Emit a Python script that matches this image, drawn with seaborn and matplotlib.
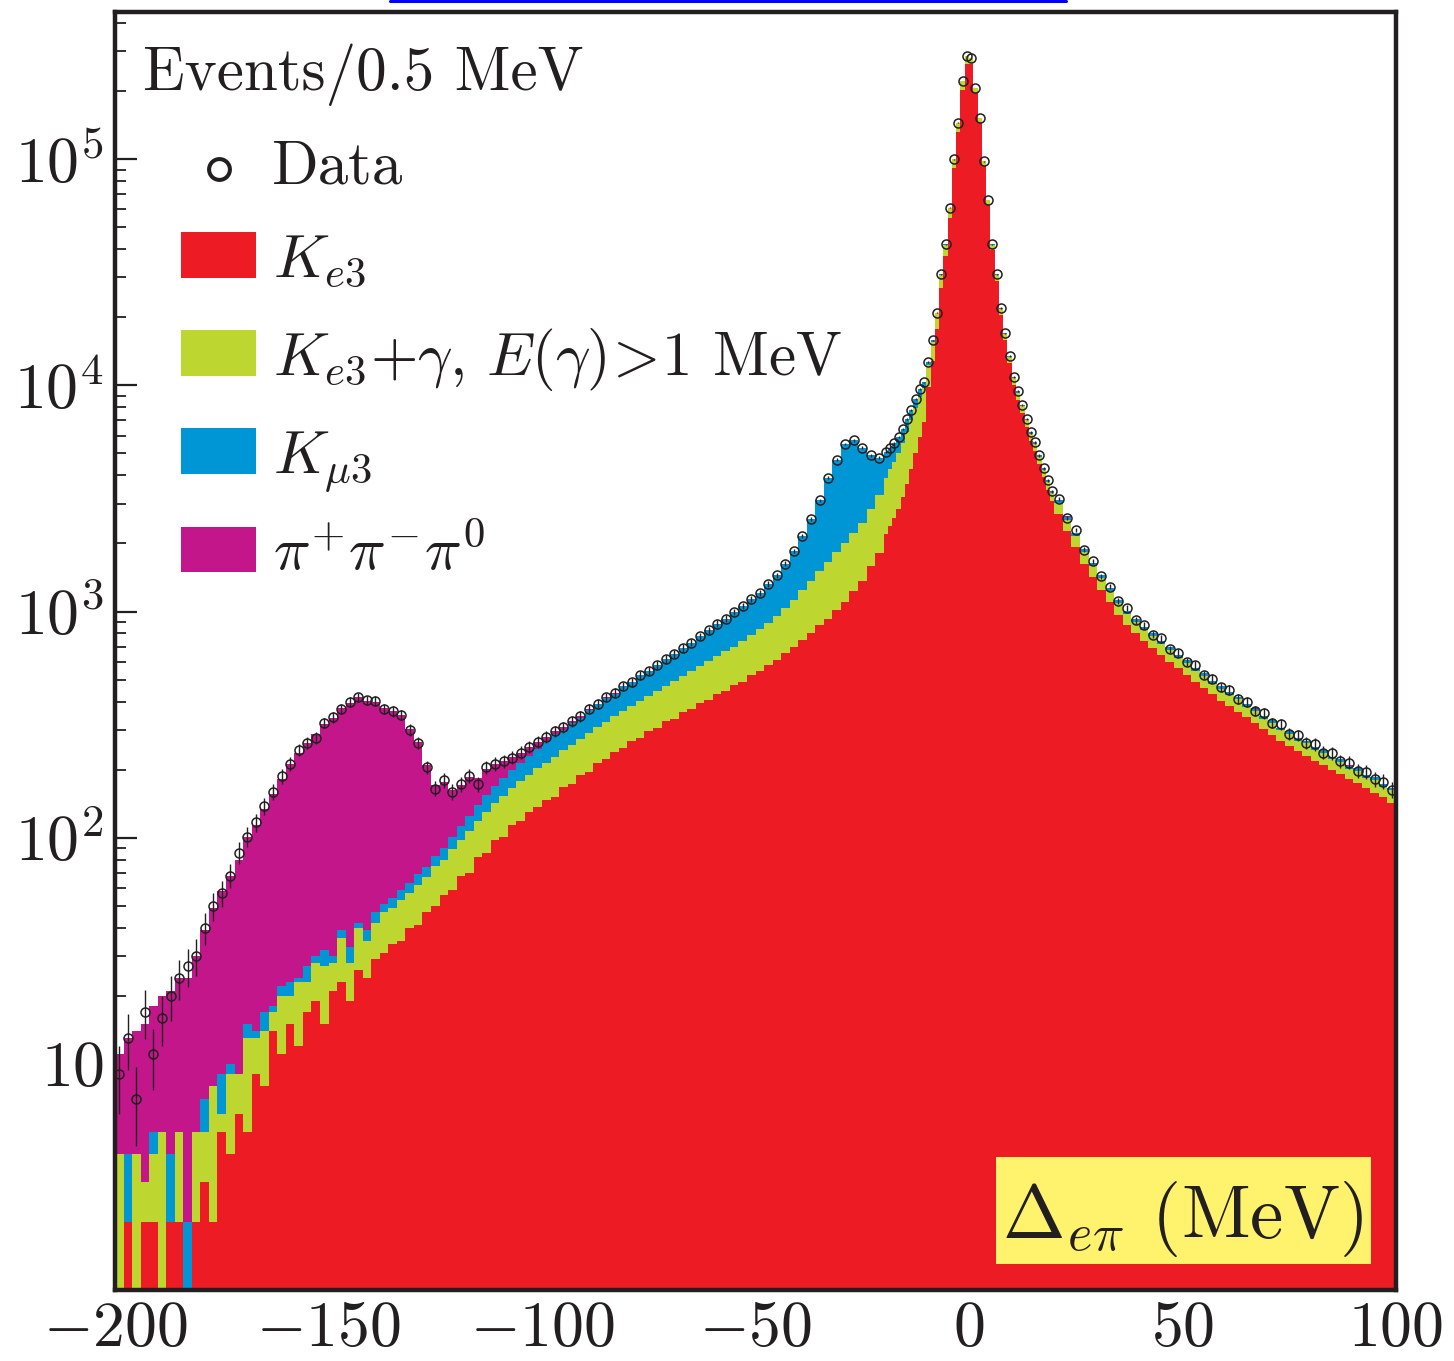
import numpy as np
import pandas as pd
import seaborn as sns
import matplotlib.pyplot as plt
from matplotlib.patches import Rectangle
from matplotlib.lines import Line2D
from matplotlib.ticker import LogLocator, NullFormatter

# Bin edges: 2 MeV on the tails, 1 MeV around the K_e3 peak
EDGES = np.concatenate([np.arange(-200, -20, 2.0), np.arange(-20, 20, 1.0), np.arange(20, 100.1, 2.0)])
CENTERS = 0.5 * (EDGES[:-1] + EDGES[1:])

# Events / 0.5 MeV, one value per bin (left tail, peak, right tail)
data_counts = [
    9, 13, 7, 17, 11, 16, 20, 24, 27, 30,
    40, 50, 57, 68, 86, 101, 117, 138, 160, 187,
    212, 245, 262, 276, 322, 340, 372, 400, 418, 405,
    402, 372, 362, 350, 300, 262, 205, 165, 180, 160,
    172, 188, 172, 205, 212, 218, 226, 238, 252, 266,
    280, 296, 308, 328, 344, 372, 392, 418, 436, 468,
    488, 522, 546, 578, 618, 648, 692, 728, 778, 826,
    884, 930, 998, 1058, 1134, 1205, 1325, 1445, 1625, 1855,
    2150, 2560, 3100, 3900, 4700, 5500, 5720, 5300, 4900, 4780,
    5100, 5300, 5550, 5900, 6400, 7100, 7800, 8700, 9600, 10300,
    12700, 15800, 21000, 31000, 42000, 61000, 100000, 145000, 222000, 285000,
    280000, 207000, 152000, 98000, 66000, 42000, 31000, 22000, 17000, 13500,
    10900, 9400, 8200, 7100, 6200, 5600, 4900, 4300, 3800, 3400,
    3150, 2600, 2290, 1880, 1670, 1430, 1290, 1110, 1035, 915,
    870, 790, 760, 680, 655, 600, 580, 525, 505, 462,
    450, 410, 400, 365, 355, 322, 318, 288, 284, 262,
    259, 238, 236, 218, 215, 198, 196, 181, 177, 163,
]
ke3 = [
    1, 2, 0, 2, 2, 1, 2, 2, 0, 2,
    3, 2, 5, 4, 6, 5, 9, 8, 14, 11,
    15, 12, 17, 19, 15, 21, 23, 19, 26, 24,
    29, 31, 34, 35, 40, 41, 47, 50, 56, 59,
    68, 70, 82, 86, 98, 101, 114, 118, 130, 136,
    147, 152, 168, 172, 190, 196, 214, 222, 240, 248,
    268, 276, 297, 305, 328, 336, 360, 370, 395, 405,
    432, 445, 472, 490, 523, 545, 582, 612, 658, 695,
    752, 800, 868, 925, 1015, 1100, 1235, 1370, 1585, 1820,
    2200, 2400, 2600, 2850, 3200, 3650, 4250, 5000, 5900, 6900,
    9800, 12800, 17800, 27000, 37500, 55000, 91000, 132000, 203000, 265000,
    265000, 197000, 145000, 93500, 62500, 39500, 29000, 20500, 15800, 12500,
    10050, 8650, 7550, 6520, 5680, 5120, 4470, 3920, 3460, 3090,
    2710, 2280, 1930, 1630, 1420, 1250, 1100, 970, 875, 800,
    740, 688, 640, 598, 560, 525, 490, 460, 430, 404,
    383, 361, 340, 320, 301, 284, 268, 254, 241, 230,
    219, 209, 200, 191, 182, 174, 166, 158, 151, 143,
]
ke3_gamma = [
    3, 0, 4, 1, 2, 4, 0, 3, 1, 3,
    2, 6, 1, 5, 3, 8, 4, 6, 3, 9,
    5, 11, 6, 9, 12, 7, 13, 9, 14, 11,
    13, 16, 15, 18, 17, 21, 20, 25, 24, 30,
    30, 37, 36, 44, 44, 52, 52, 60, 60, 68,
    68, 76, 76, 84, 84, 94, 94, 104, 104, 115,
    115, 126, 128, 140, 142, 156, 158, 175, 180, 198,
    202, 222, 228, 252, 262, 290, 310, 345, 380, 430,
    490, 560, 640, 730, 820, 910, 1000, 1100, 1250, 1450,
    1700, 1850, 2000, 2150, 2350, 2600, 2750, 2950, 3000, 2800,
    2500, 2700, 3000, 3800, 4300, 5800, 9000, 13000, 19000, 20000,
    15000, 10000, 7000, 4500, 3300, 2300, 1800, 1300, 1000, 850,
    700, 620, 540, 480, 430, 400, 360, 320, 290, 265,
    315, 270, 225, 200, 165, 155, 130, 125, 105, 100,
    88, 90, 76, 78, 64, 68, 56, 60, 48, 52,
    44, 48, 38, 42, 34, 38, 30, 34, 27, 31,
    25, 28, 22, 26, 20, 24, 18, 22, 16, 19,
]
kmu3 = [
    0, 2, 0, 0, 1, 0, 2, 0, 1, 0,
    2, 0, 3, 1, 0, 2, 1, 3, 1, 2,
    3, 1, 4, 2, 5, 2, 3, 5, 2, 4,
    5, 4, 5, 6, 6, 7, 7, 8, 10, 12,
    15, 18, 21, 24, 27, 30, 33, 36, 39, 42,
    53, 58, 56, 66, 65, 78, 81, 90, 90, 104,
    105, 120, 121, 133, 148, 156, 174, 183, 203, 223,
    250, 263, 298, 316, 349, 370, 433, 488, 587, 730,
    908, 1200, 1592, 2245, 2865, 3490, 3485, 2830, 2065, 1510,
    1200, 1050, 950, 900, 850, 850, 800, 750, 700, 600,
    400, 300, 200, 200, 200, 200, 0, 0, 0, 0,
    0, 0, 0, 0, 200, 200, 200, 200, 200, 150,
    150, 130, 110, 100, 90, 80, 70, 60, 50, 45,
    95, 80, 70, 60, 50, 45, 40, 35, 30, 30,
    25, 25, 22, 20, 18, 18, 16, 15, 14, 13,
    12, 12, 11, 10, 10, 9, 9, 8, 8, 7,
    7, 7, 6, 6, 6, 5, 5, 5, 5, 4,
]
pi3 = [
    7, 9, 10, 12, 13, 15, 17, 19, 22, 25,
    32, 41, 49, 58, 71, 86, 100, 117, 138, 160,
    189, 214, 236, 258, 285, 308, 334, 360, 375, 365,
    352, 325, 308, 288, 240, 195, 135, 88, 86, 62,
    58, 60, 45, 48, 42, 35, 28, 24, 22, 18,
    12, 10, 8, 6, 5, 4, 3, 2, 2, 1,
    0, 0, 0, 0, 0, 0, 0, 0, 0, 0,
    0, 0, 0, 0, 0, 0, 0, 0, 0, 0,
    0, 0, 0, 0, 0, 0, 0, 0, 0, 0,
    0, 0, 0, 0, 0, 0, 0, 0, 0, 0,
    0, 0, 0, 0, 0, 0, 0, 0, 0, 0,
    0, 0, 0, 0, 0, 0, 0, 0, 0, 0,
    0, 0, 0, 0, 0, 0, 0, 0, 0, 0,
    0, 2, 0, 1, 0, 0, 2, 0, 0, 1,
    0, 0, 1, 0, 0, 1, 0, 0, 0, 1,
    0, 0, 0, 1, 0, 0, 0, 0, 1, 0,
    0, 0, 0, 0, 1, 0, 0, 0, 0, 0,
]

SOURCES = ['pi3', 'kmu3', 'ke3g', 'ke3']
COLORS = {'ke3': '#ed1c24', 'ke3g': '#bdd630', 'kmu3': '#0096d6', 'pi3': '#c4168b'}
LABELS = {
    'ke3': r'$K_{e3}$',
    'ke3g': r'$K_{e3}{+}\gamma$, $E(\gamma)\!>\!1$ MeV',
    'kmu3': r'$K_{\mu3}$',
    'pi3': r'$\pi^{+}\pi^{-}\pi^{0}$',
}
INK = '#231f20'

df = pd.concat([
    pd.DataFrame({'x': CENTERS, 'w': vals, 'src': name})
    for name, vals in [('ke3', ke3), ('ke3g', ke3_gamma), ('kmu3', kmu3), ('pi3', pi3)]
], ignore_index=True)

sns.set_style('white')
plt.rcParams['font.family'] = 'cmr10'
plt.rcParams['mathtext.fontset'] = 'cm'
plt.rcParams['axes.formatter.use_mathtext'] = True

fig = plt.figure(figsize=(14.54, 13.61), dpi=100)
L, R, T, B = 115, 1396, 11.5, 1290
ax = fig.add_axes([L / 1454, 1 - B / 1361, (R - L) / 1454, (B - T) / 1361])
ax.set_yscale('log')

sns.histplot(
    data=df, x='x', weights='w', hue='src', hue_order=SOURCES,
    multiple='stack', bins=EDGES.tolist(), element='step', fill=True,
    palette=COLORS, linewidth=0, alpha=1, legend=False, ax=ax
)

d = np.array(data_counts, dtype=float)
ax.errorbar(CENTERS, d, yerr=np.sqrt(d), fmt='o', ms=6.5, mfc='none', mec=INK, mew=1.1,
            ecolor=INK, elinewidth=1.0, capsize=0, zorder=4)

ax.set_xlim(-200, 100)
ax.set_ylim(1, 4.5e5)
ax.set_xlabel('')
ax.set_ylabel('')

xt = [-200, -150, -100, -50, 0, 50, 100]
ax.set_xticks(xt)
ax.set_xticklabels([f'${v}$' for v in xt])
ax.set_yticks([10, 1e2, 1e3, 1e4, 1e5])
ax.set_yticklabels([r'$10$', r'$10^{2}$', r'$10^{3}$', r'$10^{4}$', r'$10^{5}$'])
ax.yaxis.set_minor_locator(LogLocator(base=10, subs=range(2, 10), numticks=20))
ax.yaxis.set_minor_formatter(NullFormatter())
ax.tick_params(axis='both', which='both', direction='in', bottom=True, left=True,
               top=False, right=False, color=INK)
ax.tick_params(axis='x', which='minor', bottom=False)
ax.tick_params(axis='both', which='major', length=16, width=1.6, labelsize=46, pad=8, labelcolor=INK)
ax.tick_params(axis='y', which='minor', length=8, width=1.3)
for s in ax.spines.values():
    s.set_linewidth(3.2)
    s.set_color(INK)

# legend drawn by hand in axes fraction
def fx(px):
    return (px - L) / (R - L)

def fy(py):
    return (B - py) / (B - T)

ax.text(fx(143), fy(90), 'Events/0.5 MeV', fontsize=44, color=INK, transform=ax.transAxes, va='baseline')
ax.plot([fx(219)], [fy(169)], transform=ax.transAxes, marker='o', ms=15, mfc='white',
        mec=INK, mew=2.9, ls='none', clip_on=False, zorder=6)
ax.text(fx(272), fy(184), 'Data', fontsize=44, color=INK, transform=ax.transAxes, va='baseline')
rows = [('ke3', 232, 278), ('ke3g', 330, 376), ('kmu3', 428, 474), ('pi3', 527, 572)]
for key, top, bot in rows:
    ax.add_patch(Rectangle((fx(181), fy(bot)), fx(256) - fx(181), fy(top) - fy(bot),
                           transform=ax.transAxes, facecolor=COLORS[key], lw=0, zorder=6))
    ax.text(fx(273), fy(bot - 1), LABELS[key], fontsize=44, color=INK,
            transform=ax.transAxes, va='baseline', zorder=6)

# axis title in a yellow box, lower right
ax.add_patch(Rectangle((fx(996), fy(1264)), fx(1371) - fx(996), fy(1157) - fy(1264),
                       transform=ax.transAxes, facecolor='#fff36d', lw=0, zorder=6))
ax.text(fx(1002), fy(1238), r'$\Delta_{e\pi}$ (MeV)', fontsize=54, color=INK,
        transform=ax.transAxes, va='baseline', zorder=7)

fig.add_artist(Line2D([390 / 1454, 1066 / 1454], [1 - 1.2 / 1361] * 2, color='#0000ff', lw=2.2,
                      transform=fig.transFigure))

fig.savefig('out.png', dpi=100)
